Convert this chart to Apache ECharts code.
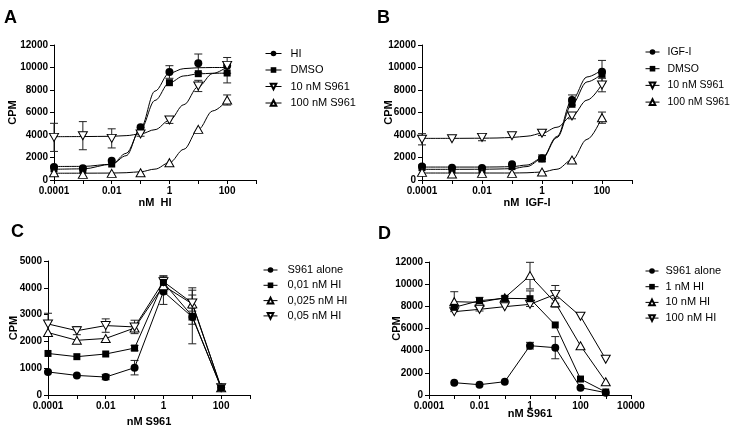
<!DOCTYPE html>
<html>
<head>
<meta charset="utf-8">
<script src="https://cdn.jsdelivr.net/npm/echarts@6/dist/echarts.min.js"></script>
<style>
  html, body { margin: 0; padding: 0; background: #fff; }
  #chart { width: 733px; height: 428px; }
</style>
</head>
<body>
<div id="chart"></div>
<script>
// x positions (nM)
var doseX = [0.0001, 0.001, 0.01, 0.1, 1, 10, 100];
var doseXD = [0.001, 0.01, 0.1, 1, 10, 100, 1000];
var curveX = [0.0001, 0.001, 0.01, 0.0316, 0.1, 0.316, 1, 3.16, 10, 31.6, 100];

// panel A - HI dose response
var aHI = [1150, 1050, 1720, 4680, 9600, 10370, 10150];
var aDMSO = [1000, 890, 1420, 4500, 8650, 9450, 9510];
var aS10 = [3790, 3940, 3700, 4090, 5330, 8360, 10190];
var aS100 = [650, 500, 590, 650, 1540, 4500, 7110];
var aHIerr = [0, 0, 0, 0, 560, 830, 0];
var aDMSOerr = [0, 0, 0, 0, 0, 0, 880];
var aS10err = [1250, 1250, 850, 200, 300, 500, 700];
var aS100err = [0, 0, 0, 0, 0, 0, 450];
// fitted curves
var aHIfit = [1200, 1210, 1400, 2160, 4600, 7900, 9500, 9900, 9980, 10000, 10000];
var aDMSOfit = [950, 990, 1400, 2370, 4500, 7070, 8650, 9250, 9430, 9490, 9500];
var aS10fit = [3850, 3860, 3885, 3944, 4095, 4475, 5300, 6695, 8300, 9465, 10070];
var aS100fit = [600, 605, 617, 648, 735, 967, 1540, 2730, 4500, 6140, 7100];

// panel B - IGF-I dose response
var bIGF = [1190, 1100, 1070, 1390, 1930, 7110, 9630];
var bDMSO = [1100, 890, 890, 1190, 1870, 6730, 9390];
var bS10 = [3620, 3670, 3790, 3940, 4150, 5690, 8440];
var bS100 = [680, 530, 590, 590, 710, 1780, 5540];
var bIGFerr = [0, 0, 0, 0, 300, 450, 1000];
var bS10err = [500, 0, 300, 0, 200, 250, 600];
var bS100err = [0, 0, 0, 0, 0, 0, 500];
var bIGFfit = [1150, 1150, 1150, 1160, 1190, 1330, 1930, 3870, 7110, 9160, 9800];
var bDMSOfit = [950, 950, 955, 975, 1010, 1195, 1870, 3780, 6730, 8720, 9440];
var bS10fit = [3700, 3702, 3714, 3734, 3780, 3894, 4150, 4690, 5690, 7100, 8520];
var bS100fit = [620, 620, 620, 620, 620, 643, 710, 958, 1780, 3610, 5580];

// panel C - S961 with low HI
var cAlone = [860, 730, 670, 1020, 3860, 2910, 280];
var cHI001 = [1550, 1430, 1530, 1750, 4200, 2940, 270];
var cHI0025 = [2330, 2040, 2110, 2500, 4080, 3400, 270];
var cHI005 = [2650, 2400, 2590, 2540, 4230, 3430, 270];
var cAloneErr = [0, 0, 100, 270, 480, 1000, 0];
var cHI001Err = [0, 0, 0, 100, 250, 300, 0];
var cHI0025Err = [0, 0, 0, 0, 300, 600, 0];
var cHI005Err = [400, 150, 250, 250, 200, 300, 0];

// panel D - S961 with high HI
var dAlone = [1110, 930, 1200, 4450, 4270, 660, 210];
var dHI1 = [7910, 8510, 8720, 8690, 6320, 1440, 270];
var dHI10 = [8420, 8360, 8780, 10770, 8330, 4450, 1200];
var dHI100 = [7520, 7730, 7970, 8180, 9080, 7100, 3220];
var dAloneErr = [0, 0, 0, 300, 1000, 0, 0];
var dHI1Err = [0, 300, 200, 700, 0, 0, 0];
var dHI10Err = [900, 0, 0, 1200, 400, 0, 0];
var dHI100Err = [0, 150, 0, 0, 800, 0, 0];

var FONT = '"Liberation Sans", Arial, sans-serif';

var SYM = {
  circle: { symbol: 'circle', symbolSize: 8, itemStyle: { color: '#000' } },
  square: { symbol: 'rect', symbolSize: 7, itemStyle: { color: '#000' } },
  down: { symbol: 'triangle', symbolRotate: 180, symbolSize: [9, 8], itemStyle: { color: '#fff', borderColor: '#000', borderWidth: 1 } },
  up: { symbol: 'triangle', symbolSize: [9, 8], itemStyle: { color: '#fff', borderColor: '#000', borderWidth: 1 } }
};

function pairs(xs, ys) {
  return xs.map(function (x, i) { return [x, ys[i]]; });
}

function points(name, idx, xs, ys, sym, withLine) {
  var s = SYM[sym];
  return {
    name: name, type: 'line', xAxisIndex: idx, yAxisIndex: idx,
    data: pairs(xs, ys), symbol: s.symbol, symbolSize: s.symbolSize,
    symbolRotate: s.symbolRotate || 0, showSymbol: true,
    itemStyle: s.itemStyle,
    lineStyle: { color: '#000', width: 1, opacity: withLine ? 1 : 0 },
    silent: true, animation: false, z: 3
  };
}

function fit(idx, ys) {
  return {
    type: 'line', xAxisIndex: idx, yAxisIndex: idx,
    data: pairs(curveX, ys), showSymbol: false, symbol: 'none',
    smooth: 0.35, smoothMonotone: 'x',
    lineStyle: { color: '#000', width: 1 },
    silent: true, animation: false, z: 2
  };
}

function errorBars(idx, xs, ys, es) {
  var d = [];
  xs.forEach(function (x, i) { if (es[i] > 0) d.push([x, ys[i], es[i]]); });
  return {
    type: 'custom', xAxisIndex: idx, yAxisIndex: idx, data: d,
    silent: true, animation: false, z: 1,
    renderItem: function (params, api) {
      var x = api.value(0), y = api.value(1), e = api.value(2);
      var t = api.coord([x, y + e]);
      var b = api.coord([x, y - e]);
      var w = 4;
      var st = { stroke: '#222', lineWidth: 1 };
      return {
        type: 'group', children: [
          { type: 'line', shape: { x1: t[0], y1: t[1], x2: b[0], y2: b[1] }, style: st },
          { type: 'line', shape: { x1: t[0] - w, y1: t[1], x2: t[0] + w, y2: t[1] }, style: st },
          { type: 'line', shape: { x1: b[0] - w, y1: b[1], x2: b[0] + w, y2: b[1] }, style: st }
        ]
      };
    }
  };
}

function logLabel(v) {
  var e = Math.round(Math.log10(v));
  if (e % 2 !== 0) return '';
  return e < 0 ? v.toFixed(-e) : String(Math.round(v));
}

function xAxis(idx, max, name, gap) {
  return {
    type: 'log', logBase: 10, gridIndex: idx, min: 0.0001, max: max, splitNumber: 10,
    name: name, nameLocation: 'middle', nameGap: gap, nameMoveOverlap: false,
    nameTextStyle: { fontFamily: FONT, fontWeight: 'bold', fontSize: 11, color: '#000' },
    axisLine: { show: true, lineStyle: { color: '#000', width: 1 } },
    axisTick: { show: true, length: 4, lineStyle: { color: '#000' } },
    axisLabel: { formatter: logLabel, fontFamily: FONT, fontWeight: 'bold', fontSize: 10, color: '#000', margin: 6 },
    splitLine: { show: false }, minorTick: { show: false }
  };
}

function yAxis(idx, max, step, gap) {
  return {
    type: 'value', gridIndex: idx, min: 0, max: max, interval: step,
    name: 'CPM', nameLocation: 'middle', nameRotate: 90,
    nameGap: gap, nameMoveOverlap: false,
    nameTextStyle: { fontFamily: FONT, fontWeight: 'bold', fontSize: 11, color: '#000' },
    axisLine: { show: true, lineStyle: { color: '#000', width: 1 } },
    axisTick: { show: true, length: 4, lineStyle: { color: '#000' } },
    axisLabel: { formatter: function (v) { return String(v); }, fontFamily: FONT, fontWeight: 'bold', fontSize: 10, color: '#000', margin: 6 },
    splitLine: { show: false }
  };
}

function legend(names, left, top, gap, iw, fs, pad) {
  return {
    data: names, orient: 'vertical', left: left, top: top, itemGap: gap,
    itemWidth: iw, itemHeight: 7, padding: 0, selectedMode: false,
    lineStyle: { color: '#000', width: 1, opacity: 1 },
    textStyle: { fontFamily: FONT, fontSize: fs, color: '#000', padding: [0, 0, 0, pad] }
  };
}

var chart = echarts.init(document.getElementById('chart'), null, { renderer: 'canvas' });

var series = [
  // A
  errorBars(0, doseX, aHI, aHIerr), errorBars(0, doseX, aDMSO, aDMSOerr),
  errorBars(0, doseX, aS10, aS10err), errorBars(0, doseX, aS100, aS100err),
  fit(0, aHIfit), fit(0, aDMSOfit), fit(0, aS10fit), fit(0, aS100fit),
  points('HI', 0, doseX, aHI, 'circle', false),
  points('DMSO', 0, doseX, aDMSO, 'square', false),
  points('10 nM S961', 0, doseX, aS10, 'down', false),
  points('100 nM S961', 0, doseX, aS100, 'up', false),
  // B
  errorBars(1, doseX, bIGF, bIGFerr), errorBars(1, doseX, bS10, bS10err),
  errorBars(1, doseX, bS100, bS100err),
  fit(1, bIGFfit), fit(1, bDMSOfit), fit(1, bS10fit), fit(1, bS100fit),
  points('IGF-I', 1, doseX, bIGF, 'circle', false),
  points('DMSO', 1, doseX, bDMSO, 'square', false),
  points('10 nM S961', 1, doseX, bS10, 'down', false),
  points('100 nM S961', 1, doseX, bS100, 'up', false),
  // C
  errorBars(2, doseX, cAlone, cAloneErr), errorBars(2, doseX, cHI001, cHI001Err),
  errorBars(2, doseX, cHI0025, cHI0025Err), errorBars(2, doseX, cHI005, cHI005Err),
  points('S961 alone', 2, doseX, cAlone, 'circle', true),
  points('0,025 nM HI', 2, doseX, cHI0025, 'up', true),
  points('0,05 nM HI', 2, doseX, cHI005, 'down', true),
  points('0,01 nM HI', 2, doseX, cHI001, 'square', true),
  // D
  errorBars(3, doseXD, dAlone, dAloneErr), errorBars(3, doseXD, dHI1, dHI1Err),
  errorBars(3, doseXD, dHI10, dHI10Err), errorBars(3, doseXD, dHI100, dHI100Err),
  points('S961 alone', 3, doseXD, dAlone, 'circle', true),
  points('10 nM HI', 3, doseXD, dHI10, 'up', true),
  points('100 nM HI', 3, doseXD, dHI100, 'down', true),
  points('1 nM HI', 3, doseXD, dHI1, 'square', true)
];

var option = {
  backgroundColor: '#fff',
  animation: false,
  grid: [
    { left: 54, top: 45, width: 202, height: 135 },
    { left: 422, top: 45, width: 210, height: 135 },
    { left: 48, top: 261, width: 202, height: 134 },
    { left: 429, top: 262, width: 202, height: 133 }
  ],
  xAxis: [
    xAxis(0, 1000, 'nM  HI', 17),
    xAxis(1, 1000, 'nM  IGF-I', 17),
    xAxis(2, 1000, 'nM S961', 21),
    xAxis(3, 10000, 'nM S961', 13)
  ],
  yAxis: [
    yAxis(0, 12000, 2000, 36), yAxis(1, 12000, 2000, 28),
    yAxis(2, 5000, 1000, 29), yAxis(3, 12000, 2000, 27)
  ],
  legend: [
    legend(['HI', 'DMSO', '10 nM S961', '100 nM S961'], 265, 48, 5.5, 16, 11, 4),
    legend(['IGF-I', 'DMSO', '10 nM S961', '100 nM S961'], 645, 46.5, 5.7, 14, 10.5, 3),
    legend(['S961 alone', '0,01 nM HI', '0,025 nM HI', '0,05 nM HI'], 263, 264.5, 4.3, 14, 11, 5),
    legend(['S961 alone', '1 nM HI', '10 nM HI', '100 nM HI'], 645, 265.5, 4.7, 13, 11, 2)
  ],
  graphic: [
    { type: 'text', left: 4, top: 9, style: { text: 'A', font: 'bold 18px ' + FONT, fill: '#000' } },
    { type: 'text', left: 377, top: 9, style: { text: 'B', font: 'bold 18px ' + FONT, fill: '#000' } },
    { type: 'text', left: 11, top: 223, style: { text: 'C', font: 'bold 18px ' + FONT, fill: '#000' } },
    { type: 'text', left: 378, top: 225, style: { text: 'D', font: 'bold 18px ' + FONT, fill: '#000' } }
  ],
  series: series
};

chart.setOption(option);
</script>
</body>
</html>
